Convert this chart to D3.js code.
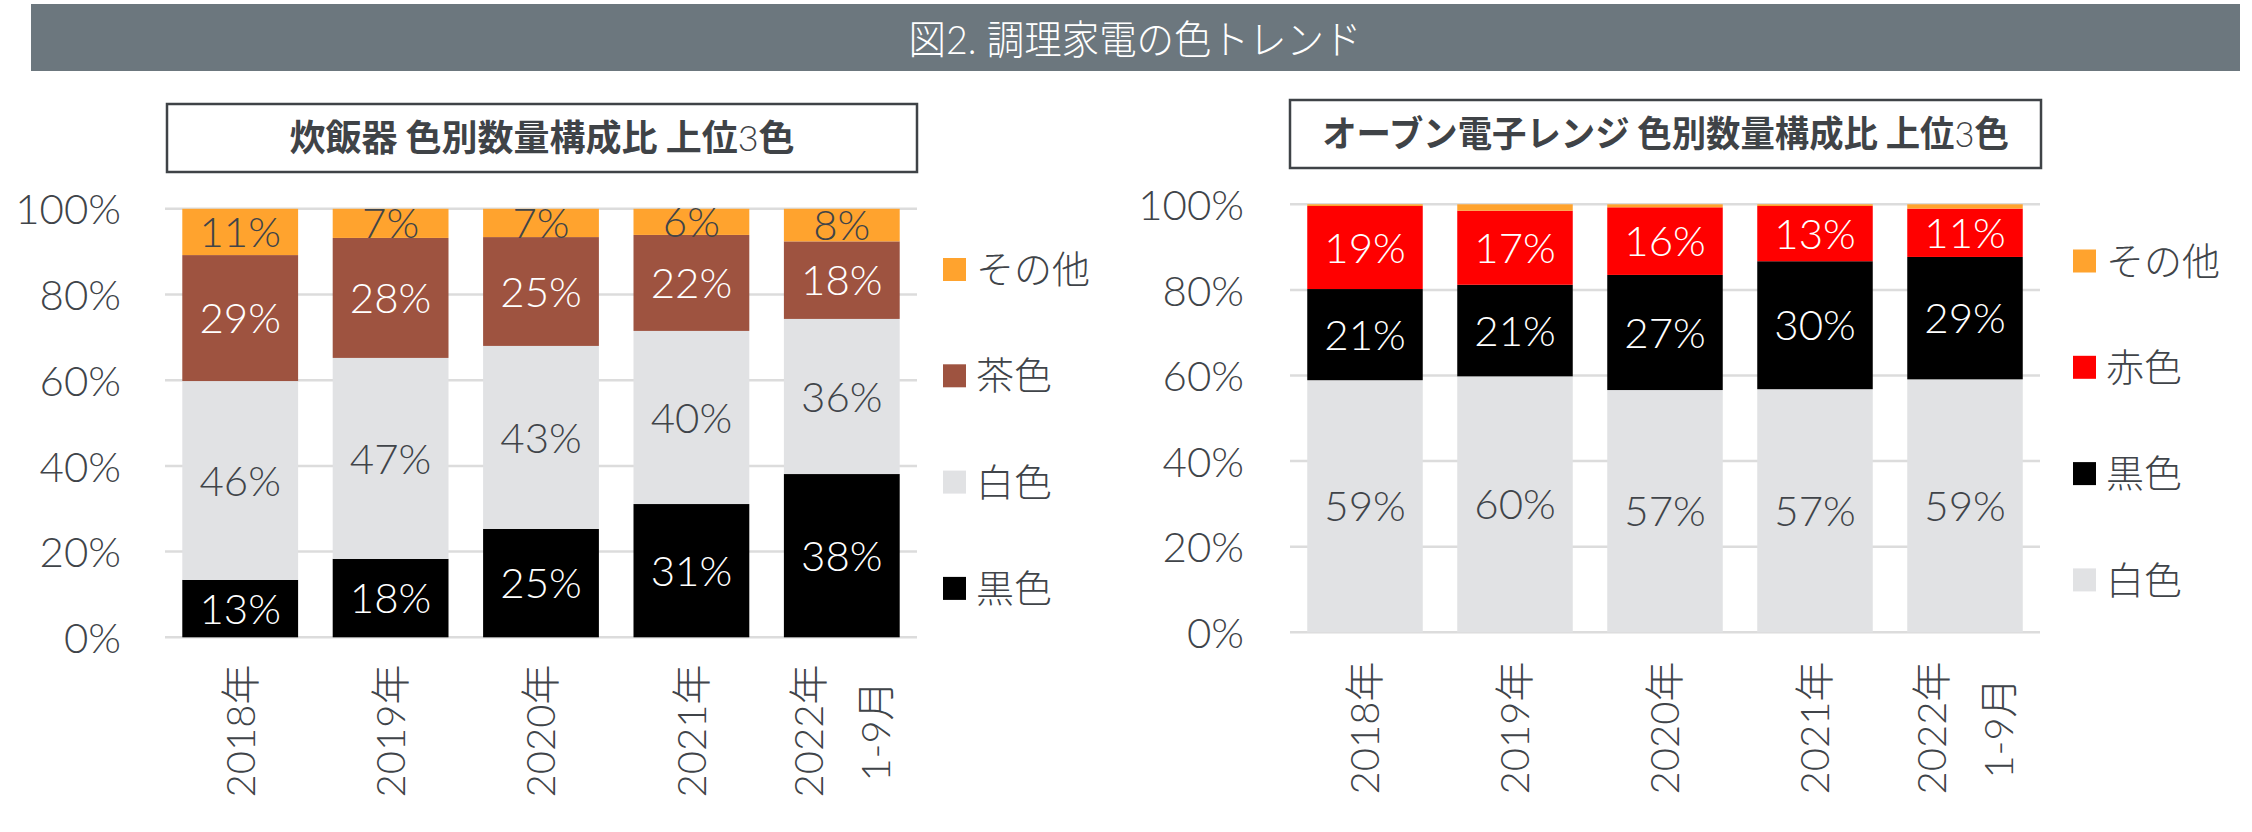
<!DOCTYPE html>
<html>
<head>
<meta charset="utf-8">
<script src="https://cdn.jsdelivr.net/npm/d3@7"></script>
<style>
  body { margin: 0; background: #fff; }
  svg { display: block; }
  .num { font-family: Lato, "Noto Sans CJK JP", sans-serif; font-weight: 300; }
</style>
</head>
<body>
<div id="viz"></div>
<script>
const width = 2252;
const height = 832;

const textColor = '#404449';
const gridColor = '#dcdcdc';

// categories / tick labels
const years = ['2018年', '2019年', '2020年', '2021年', '2022年'];
const yearSub = ['', '', '', '', '1-9月'];
const yTicks = [0, 20, 40, 60, 80, 100];

// 炊飯器 (bottom -> top)
const riceKeys = ['黒色', '白色', '茶色', 'その他'];
const riceBlack = [13.4, 18.3, 25.3, 31.1, 38.1];
const riceWhite = [46.4, 46.9, 42.7, 40.4, 36.2];
const riceBrown = [29.4, 28.0, 25.4, 22.4, 18.1];
const riceOther = [10.8, 6.8, 6.6, 6.1, 7.6];

// オーブン電子レンジ (bottom -> top)
const ovenKeys = ['白色', '黒色', '赤色', 'その他'];
const ovenWhite = [58.9, 59.8, 56.6, 56.8, 59.1];
const ovenBlack = [21.3, 21.4, 26.9, 29.9, 28.6];
const ovenRed = [19.4, 17.3, 15.8, 12.9, 11.3];
const ovenOther = [0.4, 1.5, 0.7, 0.4, 1.0];

const colorOf = {
  '黒色': '#000000',
  '白色': '#e1e2e4',
  '茶色': '#9e5340',
  '赤色': '#ff0000',
  'その他': '#ffa32e',
};
// label colour on each segment
const labelColorOf = {
  '黒色': '#ffffff',
  '白色': textColor,
  '茶色': '#ffffff',
  '赤色': '#ffffff',
  'その他': textColor,
};

const pct = d3.format('.0f');

const svg = d3
  .select('#viz')
  .append('svg')
  .attr('width', width)
  .attr('height', height)
  .attr('viewBox', [0, 0, width, height]);

// squeeze a centred text horizontally so it spans `len` px
function squeeze(sel, cx, y, len) {
  const natural = sel.node().getComputedTextLength();
  const k = Math.min(1, len / natural);
  sel.attr('x', 0).attr('y', 0).attr('transform', `translate(${cx},${y}) scale(${k},1)`);
}

// banner
svg
  .append('rect')
  .attr('x', 31)
  .attr('y', 4)
  .attr('width', 2209)
  .attr('height', 67)
  .attr('fill', '#6c777e');

const banner = svg
  .append('text')
  .attr('text-anchor', 'middle')
  .attr('fill', '#ffffff')
  .attr('font-family', 'Lato, "Noto Sans CJK JP", sans-serif')
  .attr('font-weight', 300)
  .attr('font-size', 40)
  .text('図2. 調理家電の色トレンド');
squeeze(banner, 1135, 54, 453);

function drawChart(cfg) {
  const g = svg.append('g');

  const rows = years.map((yr, i) => {
    const row = { year: yr, sub: yearSub[i] };
    cfg.keys.forEach((k, j) => (row[k] = cfg.series[j][i]));
    return row;
  });

  const stacked = d3.stack().keys(cfg.keys)(rows);

  const xScale = d3
    .scaleBand()
    .domain(years)
    .range([cfg.left, cfg.right])
    .paddingInner(0.23)
    .paddingOuter(0.115);

  const yScale = d3.scaleLinear().domain([0, 100]).range([cfg.bottom, cfg.top]);

  // title box
  g.append('rect')
    .attr('x', cfg.box[0])
    .attr('y', cfg.box[1])
    .attr('width', cfg.box[2])
    .attr('height', cfg.box[3])
    .attr('fill', '#fff')
    .attr('stroke', '#3f4347')
    .attr('stroke-width', 2.5);

  const title = g
    .append('text')
    .attr('text-anchor', 'middle')
    .attr('fill', '#3f4347')
    .attr('font-family', '"Noto Sans CJK JP", sans-serif')
    .attr('font-weight', 700)
    .attr('font-size', 36);
  title.append('tspan').text(cfg.title);
  title
    .append('tspan')
    .attr('font-family', 'Lato, sans-serif')
    .attr('font-weight', 300)
    .text('3');
  title.append('tspan').text('色');
  squeeze(title, cfg.box[0] + cfg.box[2] / 2, cfg.box[1] + cfg.box[3] / 2 + 13, cfg.titleLength);

  // gridlines
  g.append('g')
    .selectAll('line')
    .data(yTicks)
    .join('line')
    .attr('x1', cfg.left)
    .attr('x2', cfg.right)
    .attr('y1', (d) => yScale(d))
    .attr('y2', (d) => yScale(d))
    .attr('stroke', gridColor)
    .attr('stroke-width', 2.5);

  // y axis labels
  const yAxis = d3
    .axisLeft(yScale)
    .tickValues(yTicks)
    .tickFormat((d) => d + '%')
    .tickSize(0)
    .tickPadding(0);
  const ya = g
    .append('g')
    .attr('transform', `translate(${cfg.yLabelX},0)`)
    .call(yAxis);
  ya.select('.domain').remove();
  ya.selectAll('text')
    .attr('class', 'num')
    .attr('font-size', 42)
    .attr('fill', textColor)
    .attr('dy', '0.36em');

  // bars
  const layers = g
    .append('g')
    .selectAll('g')
    .data(stacked)
    .join('g')
    .attr('fill', (d) => colorOf[d.key]);

  layers
    .selectAll('rect')
    .data((d) => d)
    .join('rect')
    .attr('x', (d) => xScale(d.data.year))
    .attr('width', xScale.bandwidth())
    .attr('y', (d) => yScale(d[1]))
    .attr('height', (d) => yScale(d[0]) - yScale(d[1]));

  // segment labels
  stacked.forEach((layer) => {
    if (cfg.noLabel.includes(layer.key)) return;
    g.append('g')
      .selectAll('text')
      .data(layer)
      .join('text')
      .attr('class', 'num')
      .attr('x', (d) => xScale(d.data.year) + xScale.bandwidth() / 2)
      .attr('y', (d) => yScale((d[0] + d[1]) / 2))
      .attr('dy', '0.36em')
      .attr('text-anchor', 'middle')
      .attr('font-size', 42)
      .attr('fill', labelColorOf[layer.key])
      .text((d) => pct(d[1] - d[0]) + '%');
  });

  // x axis labels (rotated)
  const xl = g
    .append('g')
    .selectAll('g')
    .data(rows)
    .join('g')
    .attr(
      'transform',
      (d) =>
        `translate(${xScale(d.year) + xScale.bandwidth() / 2},${cfg.xLabelY}) rotate(-90)`
    );
  xl.each(function (d) {
    const lines = d.sub ? [d.year, d.sub] : [d.year];
    const off = (lines.length - 1) * 33.5;
    d3.select(this)
      .selectAll('text')
      .data(lines)
      .join('text')
      .attr('class', 'num')
      .attr('x', 0)
      .attr('y', (t, i) => i * 67 - off)
      .attr('dy', '0.36em')
      .attr('text-anchor', 'middle')
      .attr('font-size', 40)
      .attr('fill', textColor)
      .text((t) => t);
  });

  // legend (top item = top of stack)
  const legendKeys = cfg.keys.slice().reverse();
  const lg = g
    .append('g')
    .selectAll('g')
    .data(legendKeys)
    .join('g')
    .attr('transform', (d, i) => `translate(${cfg.legendX},${cfg.legendY + i * 106.3})`);
  lg.append('rect')
    .attr('x', 0)
    .attr('y', -11.5)
    .attr('width', 23)
    .attr('height', 23)
    .attr('fill', (d) => colorOf[d]);
  lg.append('text')
    .attr('class', 'num')
    .attr('x', 33)
    .attr('y', 0)
    .attr('dy', '0.36em')
    .attr('font-size', 38)
    .attr('fill', textColor)
    .text((d) => d);
}

drawChart({
  title: '炊飯器 色別数量構成比 上位',
  titleLength: 513,
  box: [167, 104, 750, 68],
  keys: riceKeys,
  series: [riceBlack, riceWhite, riceBrown, riceOther],
  noLabel: [],
  left: 165,
  right: 917,
  top: 208.8,
  bottom: 637.3,
  yLabelX: 121,
  xLabelY: 731,
  legendX: 943,
  legendY: 269.5,
});

drawChart({
  title: 'オーブン電子レンジ 色別数量構成比 上位',
  titleLength: 687,
  box: [1290, 100, 751, 68],
  keys: ovenKeys,
  series: [ovenWhite, ovenBlack, ovenRed, ovenOther],
  noLabel: ['その他'],
  left: 1290,
  right: 2040,
  top: 204.3,
  bottom: 632.3,
  yLabelX: 1244,
  xLabelY: 728,
  legendX: 2073,
  legendY: 261,
});
</script>
</body>
</html>
